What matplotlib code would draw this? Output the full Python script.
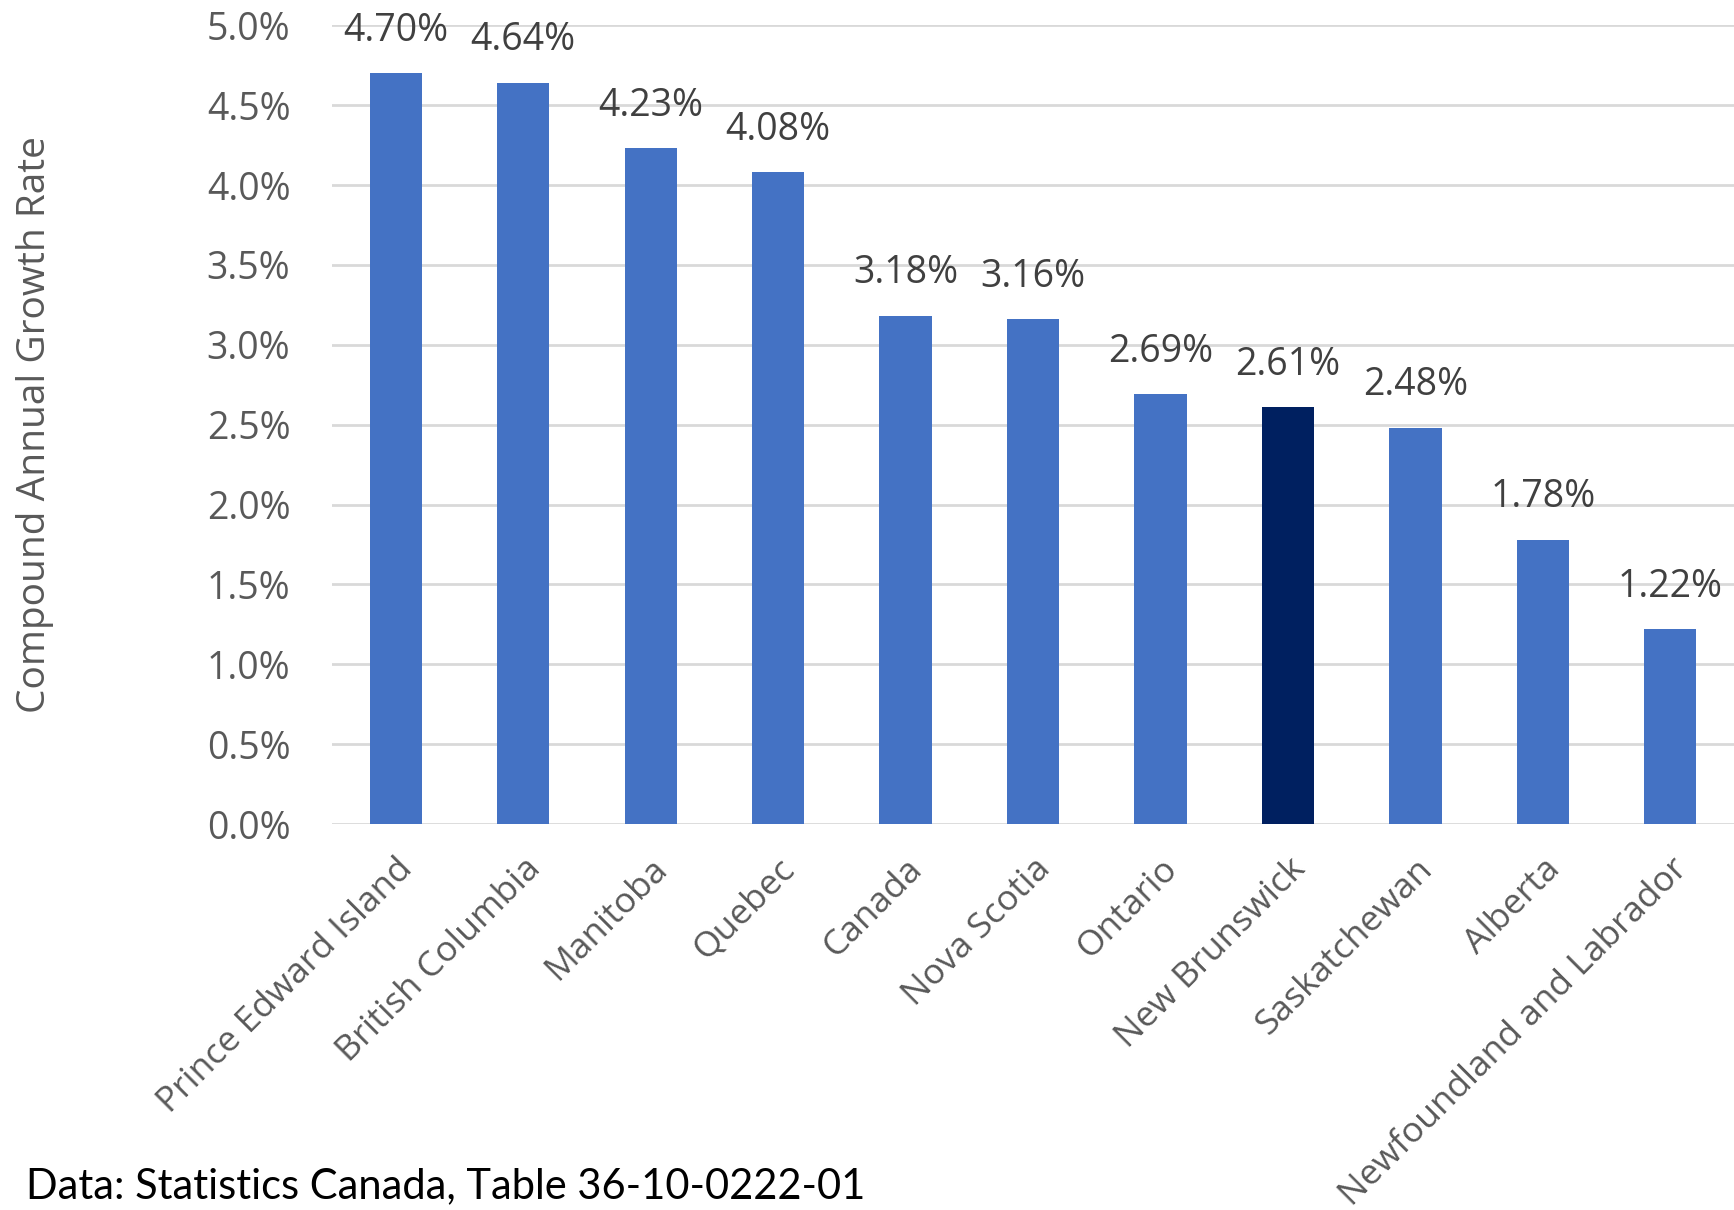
import matplotlib.pyplot as plt
from matplotlib.ticker import FuncFormatter

regions = ['Prince Edward Island', 'British Columbia', 'Manitoba', 'Quebec', 'Canada',
           'Nova Scotia', 'Ontario', 'New Brunswick', 'Saskatchewan', 'Alberta',
           'Newfoundland and Labrador']
growth = [4.70, 4.64, 4.23, 4.08, 3.18, 3.16, 2.69, 2.61, 2.48, 1.78, 1.22]
highlight = 'New Brunswick'
yticks = [0.0, 0.5, 1.0, 1.5, 2.0, 2.5, 3.0, 3.5, 4.0, 4.5, 5.0]

grey = '#595959'
plt.rcParams['font.family'] = ['Open Sans', 'DejaVu Sans']

fig = plt.figure(figsize=(17.34, 12.10), dpi=100)
ax = fig.add_axes([0.1915, 0.319, 0.8085, 0.66])

colors = ['#002060' if r == highlight else '#4472C4' for r in regions]
x = list(range(len(regions)))
bars = ax.bar(x, growth, width=0.41, color=colors, zorder=3)

for b, v in zip(bars, growth):
    ax.annotate('%.2f%%' % v, (b.get_x() + b.get_width() / 2, v),
                xytext=(0, 17), textcoords='offset points', ha='center', va='bottom',
                fontsize=27, color='#404040', annotation_clip=False)

ax.set_xlim(-0.5, len(regions) - 0.5)
ax.set_ylim(0, 5.0)
ax.set_yticks(yticks)
ax.yaxis.set_major_formatter(FuncFormatter(lambda v, p: '%.1f%%' % v))
ax.grid(axis='y', color='#D9D9D9', linewidth=2, zorder=0)
ax.set_xticks(x)
ax.set_xticklabels(regions, rotation=45, ha='right', rotation_mode='anchor')
ax.tick_params(axis='y', length=0, labelsize=27, labelcolor=grey, pad=30)
ax.tick_params(axis='x', length=0, labelsize=25.5, labelcolor=grey, pad=20)
for s in ax.spines.values():
    s.set_visible(False)

ax.set_ylabel('Compound Annual Growth Rate', fontsize=28, color=grey)
ax.yaxis.set_label_coords(-0.198, 0.5)

fig.text(0.015, 0.02, 'Data: Statistics Canada, Table 36-10-0222-01', fontsize=30,
         color='black', family=['Lato', 'DejaVu Sans'], va='center')

fig.savefig('out.png')
